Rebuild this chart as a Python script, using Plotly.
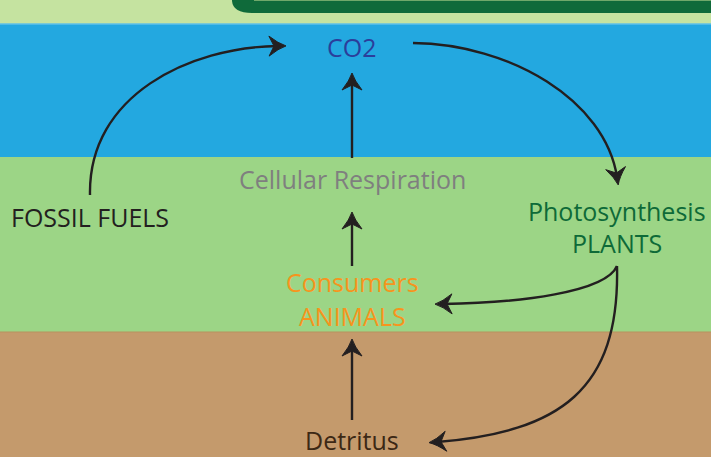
import math
import plotly.graph_objects as go

W, H = 711, 457

# ---- diagram data ----
node_labels = ["CO2", "Cellular Respiration", "FOSSIL FUELS", "Photosynthesis", "PLANTS",
               "Consumers", "ANIMALS", "Detritus"]
node_colors = ["#2B3E9B", "#7F7F7F", "#231F20", "#0E6A38", "#0E6A38",
               "#F7941D", "#F7941D", "#3C2815"]

# layout (positions) kept separately
node_pos = [(352, 47), (352, 179), (90, 217), (617, 211), (617, 243),
            (352, 282), (352, 316), (352, 440)]

# bands: (top, bottom, colour)
bands = [(-5, 24, "#C5E3A0"), (24, 157, "#23A8E0"), (157, 332, "#9CD586"), (332, H + 5, "#C49A6C")]

# curved connectors: start, ctrl1, ctrl2, end
curves = [
    ((90, 195), (88, 95), (190, 47), (278, 46)),
    ((413, 43), (510, 44), (605, 100), (617, 177)),
    ((617, 266), (606, 292), (520, 303), (443, 304)),
    ((617, 266), (620, 390), (560, 432), (437, 442)),
]
# straight connectors: x, y_from, y_tip
straights = [(352, 158, 73), (352, 266, 212), (352, 420, 339)]

INK = "#231F20"
shapes = []
for top, bot, col in bands:
    shapes.append(dict(type="rect", x0=-5, x1=W + 5, y0=top, y1=bot, fillcolor=col,
                       line=dict(width=0), layer="below"))
# band edge lines
shapes.append(dict(type="line", x0=0, x1=W, y0=24, y1=24, line=dict(color="#5FC0E8", width=1.5)))
shapes.append(dict(type="line", x0=0, x1=W, y0=332, y1=332, line=dict(color="#B8915F", width=1)))
# dark green box at top
shapes.append(dict(type="path", path="M 232 -5 L 232 1 Q 233 13 252 13 L 716 13 L 716 -5 Z",
                   fillcolor="#0F6A3A", line=dict(width=0)))
shapes.append(dict(type="line", x0=254, x1=W, y0=0.5, y1=0.5, line=dict(color="#6FA86A", width=1.2)))


def head(tx, ty, dx, dy, L=17, Wd=10, notch=5):
    n = math.hypot(dx, dy)
    dx, dy = dx / n, dy / n
    px, py = -dy, dx
    bx, by = tx - L * dx, ty - L * dy
    lx, ly = bx + Wd * px, by + Wd * py
    rx, ry = bx - Wd * px, by - Wd * py
    nx, ny = tx - (L - notch) * dx, ty - (L - notch) * dy
    return dict(type="path",
                path=f"M {tx} {ty} Q {tx-0.45*L*dx+0.25*Wd*px} {ty-0.45*L*dy+0.25*Wd*py} {lx} {ly} "
                     f"L {nx} {ny} L {rx} {ry} Q {tx-0.45*L*dx-0.25*Wd*px} {ty-0.45*L*dy-0.25*Wd*py} {tx} {ty} Z",
                fillcolor=INK, line=dict(color=INK, width=1))


for p0, p1, p2, e in curves:
    shapes.append(dict(type="path",
                       path=f"M {p0[0]} {p0[1]} C {p1[0]} {p1[1]}, {p2[0]} {p2[1]}, {e[0]} {e[1]}",
                       line=dict(color=INK, width=2.4)))
    dx, dy = e[0] - p2[0], e[1] - p2[1]
    n = math.hypot(dx, dy)
    tx, ty = e[0] + 8 * dx / n, e[1] + 8 * dy / n
    shapes.append(head(tx, ty, dx, dy))

for x, y0, yt in straights:
    shapes.append(dict(type="line", x0=x, x1=x, y0=y0, y1=yt + 8, line=dict(color=INK, width=2.4)))
    shapes.append(head(x, yt, 0, -1))

annotations = []
for lab, col, (x, y) in zip(node_labels, node_colors, node_pos):
    annotations.append(dict(x=x, y=y, text=lab, showarrow=False, xref="x", yref="y",
                            font=dict(family="Open Sans", size=25, color=col),
                            xanchor="center", yanchor="middle"))

fig = go.Figure()
fig.update_layout(
    width=W, height=H, margin=dict(l=0, r=0, t=0, b=0),
    paper_bgcolor="#9CD586", plot_bgcolor="#9CD586",
    xaxis=dict(range=[0, W], visible=False, fixedrange=True),
    yaxis=dict(range=[H, 0], visible=False, fixedrange=True),
    shapes=shapes, annotations=annotations, showlegend=False,
)
fig.write_html("out.html", config={"displayModeBar": False},
               post_script="document.body.style.margin='0';document.body.style.overflow='hidden';")
